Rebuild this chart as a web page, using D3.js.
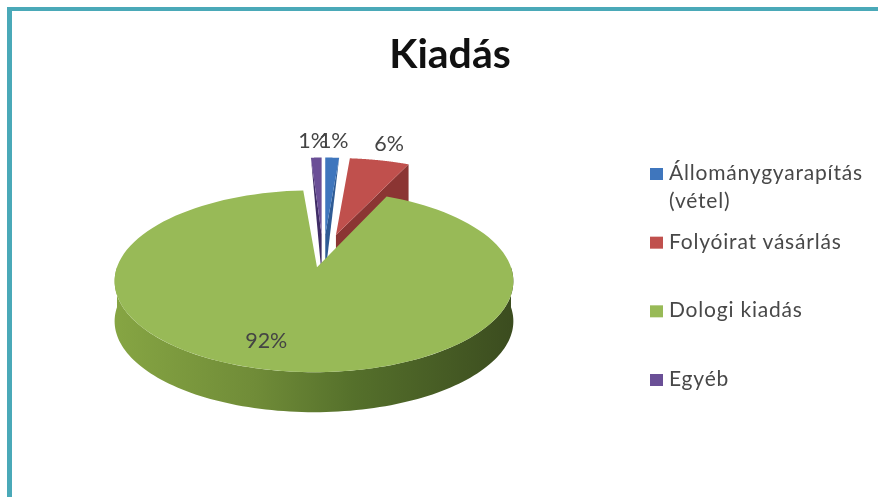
<!DOCTYPE html>
<html lang="hu">
<head>
<meta charset="UTF-8">
<script src="https://d3js.org/d3.v7.min.js"></script>
<style>
html, body { margin: 0; padding: 0; background: #fff; }
svg { filter: blur(0.5px); }
text { font-family: Lato, Carlito, Calibri, sans-serif; }
.title { font-size: 41px; font-weight: 700; fill: #111; text-anchor: middle; }
.pct { font-size: 21.5px; fill: #444; text-anchor: middle; }
.legend-text { font-size: 21px; letter-spacing: 0.8px; fill: #484848; }
</style>
</head>
<body>
<svg id="chart" width="878" height="497"></svg>
<script>
// Values (labels show them rounded)
var categories = ['Állománygyarapítás (vétel)', 'Folyóirat vásárlás', 'Dologi kiadás', 'Egyéb'];
var values = [1.3, 5.6, 92.1, 1.0];
var chartTitle = 'Kiadás';

var colors = ['#3f76bd', '#c0504d', '#98ba57', '#6a4f96'];
var wallColors = ['#2f5b95', '#8b3533', '#4e6328', '#3f2d66'];

var svg = d3.select('#chart');

// frame, only top and left edges show
svg.append('rect').attr('x', 7).attr('y', 7).attr('width', 871).attr('height', 4).attr('fill', '#4aa9b8');
svg.append('rect').attr('x', 7).attr('y', 7).attr('width', 5).attr('height', 490).attr('fill', '#4aa9b8');

svg.append('text').attr('class', 'title').attr('x', 450).attr('y', 68).text(chartTitle);

// pseudo 3d pie: perspective on the top face, fixed drop for the depth
var cx = 323.2, cy = 251,    // centre before explosion
    rx = 197, ry = 88.8,     // radius on screen
    persp = 0.154,           // back of the pie shrinks, front grows
    explodeX = 50, explodeY = 16.5,
    depth = 40;

var slices = d3.pie().sort(null).value(function(d) { return d; })(values);

function apex(s) {
    var mid = (s.startAngle + s.endAngle) / 2;
    return [cx + explodeX * Math.sin(mid), cy - explodeY * Math.cos(mid)];
}

function project(s, angle, r) {
    var a = apex(s),
        u = r * Math.sin(angle),
        v = r * Math.cos(angle),
        w = 1 + persp * v;
    return [a[0] + rx * u / w, a[1] - ry * v / w];
}

function arcPoints(s, a0, a1) {
    return d3.range(0, 121).map(function(i) {
        return project(s, a0 + (a1 - a0) * i / 120, 1);
    });
}

function drop(p) { return [p[0], p[1] + depth]; }

var line = d3.line();

var defs = svg.append('defs');
var grad = defs.append('linearGradient').attr('id', 'greenWall');
grad.append('stop').attr('offset', '0%').attr('stop-color', '#86a543');
grad.append('stop').attr('offset', '35%').attr('stop-color', '#708c38');
grad.append('stop').attr('offset', '60%').attr('stop-color', '#55702b');
grad.append('stop').attr('offset', '100%').attr('stop-color', '#3b4c1f');

// back slices first, the big green one goes on top of their walls
[3, 0, 1, 2].forEach(function(i) {
    var s = slices[i],
        a = apex(s),
        arc = arcPoints(s, s.startAngle, s.endAngle);

    if (i === 2) {
        // front wall of the big slice
        var front = arcPoints(s, Math.PI / 2, Math.PI * 1.5);
        svg.append('path')
            .attr('d', line(front.concat(front.slice().reverse().map(drop))) + 'Z')
            .attr('fill', 'url(#greenWall)');
        // notch tip sits a little right of the ellipse centre
        a = [a[0] + 3, a[1]];
    } else if (i === 1) {
        // cut face on the right side
        var edge = arc[arc.length - 1];
        svg.append('path')
            .attr('d', line([a, edge, drop(edge), drop(a)]) + 'Z')
            .attr('fill', wallColors[i]);
    } else {
        // thin slices, the cut face reads as a sliver down to the foot
        var e = i === 0 ? arc[arc.length - 1] : arc[0];
        svg.append('path')
            .attr('d', line([a, e, drop(a)]) + 'Z')
            .attr('fill', wallColors[i]);
    }

    svg.append('path')
        .attr('d', line([a].concat(arc)) + 'Z')
        .attr('fill', colors[i]);
});

// percent labels
slices.forEach(function(s, i) {
    var mid = (s.startAngle + s.endAngle) / 2,
        p = project(s, mid, i === 2 ? 0.75 : 1.26);
    svg.append('text')
        .attr('class', 'pct')
        .attr('x', p[0] + (i === 2 ? -17 : i === 3 ? -2 : 0))
        .attr('y', p[1] + 7)
        .text(Math.round(s.data) + '%');
});

// legend
var legendY = d3.scalePoint().domain(categories).range([174, 380]);

categories.forEach(function(c, i) {
    var y = legendY(c);
    svg.append('rect')
        .attr('x', 650).attr('y', y - 6)
        .attr('width', 13).attr('height', 12)
        .attr('fill', colors[i]);
    c.split(/ (?=\()/).forEach(function(part, j) {
        svg.append('text')
            .attr('class', 'legend-text')
            .attr('x', 669)
            .attr('y', y + 6 + j * 28)
            .text(part);
    });
});
</script>
</body>
</html>
